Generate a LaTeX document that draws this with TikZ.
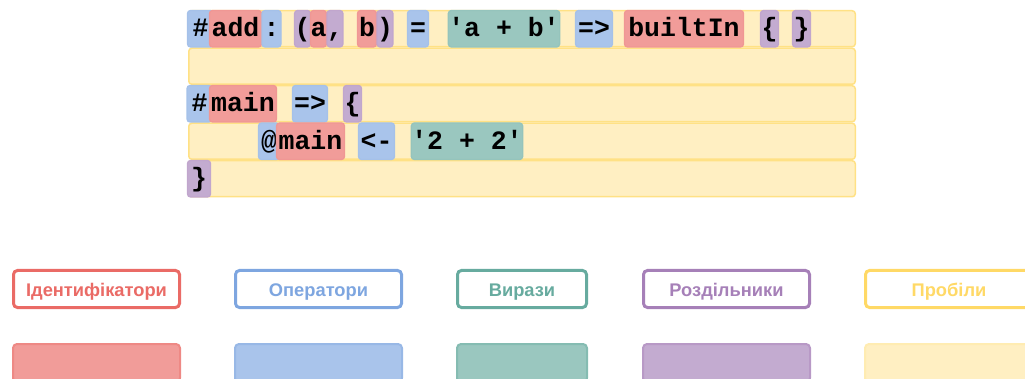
\documentclass[tikz,border=0pt]{standalone}
\usepackage{fontspec}
\setmainfont{Liberation Sans}
\setmonofont{Liberation Mono}
\definecolor{idfill}{HTML}{F19C99}
\definecolor{idline}{HTML}{EA6B66}
\definecolor{opfill}{HTML}{A9C4EB}
\definecolor{opline}{HTML}{7EA6E0}
\definecolor{exfill}{HTML}{9AC7BF}
\definecolor{exline}{HTML}{67AB9F}
\definecolor{sepfill}{HTML}{C3ABD0}
\definecolor{sepline}{HTML}{A680B8}
\definecolor{spfill}{HTML}{FFEFC2}
\definecolor{spline}{HTML}{FFD966}

\begin{document}
\begin{tikzpicture}[x=1pt, y=-1pt,
  tok/.style={shape=rectangle, rounded corners=3pt, minimum height=36.5pt, inner sep=0pt, line width=1.3pt,
    font=\fontsize{26.5}{30}\selectfont\ttfamily\bfseries, text height=21pt, text depth=5pt},
  idtok/.style={tok, fill=idfill, draw=idline!70},
  optok/.style={tok, fill=opfill, draw=opline!70},
  extok/.style={tok, fill=exfill, draw=exline!70},
  septok/.style={tok, fill=sepfill, draw=sepline!70},
  row/.style={shape=rectangle, rounded corners=3pt, minimum height=36pt, minimum width=666.5pt, inner sep=0pt,
    line width=1.5pt, fill=spfill, draw=spline!80},
  key/.style={shape=rectangle, rounded corners=4pt, minimum height=37pt, inner sep=0pt, line width=3pt, fill=white,
    font=\fontsize{18.3}{21}\selectfont\bfseries, text height=14.5pt, text depth=0pt},
  swatch/.style={shape=rectangle, rounded corners=4pt, minimum height=38pt, inner sep=0pt, line width=2pt}]
\useasboundingbox (0,0) rectangle (1025,379);
\clip (0,0) rectangle (1025,379);
%whitespace rows
\node[row] (rowA) at (522,28.75) {};
\node[row] (rowB) at (522,66.25) {};
\node[row] (rowC) at (522,103.75) {};
\node[row] (rowD) at (522,141.25) {};
\node[row] (rowE) at (522,178.75) {};
%#add: (a, b) = 'a + b' => builtIn { }
\node[optok, minimum width=26pt] (hashA) at (200.5,28.75) {\#};
\node[idtok, minimum width=52pt] (add) at (235.5,28.75) {add};
\node[optok, minimum width=19pt] (colon) at (271.5,28.75) {:};
\node[septok, minimum width=14pt] (lpar) at (302.5,28.75) {(};
\node[idtok, minimum width=16pt] (argA) at (318.5,28.75) {a};
\node[septok, minimum width=15pt] (comma) at (335,28.75) {,};
\node[idtok, minimum width=19pt] (argB) at (367,28.75) {b};
\node[septok, minimum width=15pt] (rpar) at (385,28.75) {)};
\node[optok, minimum width=21pt] (eq) at (418,28.75) {=};
\node[extok, minimum width=111pt] (body) at (504,28.75) {'a + b'};
\node[optok, minimum width=37pt] (arrA) at (594,28.75) {=>};
\node[idtok, minimum width=119pt] (builtin) at (684,28.75) {builtIn};
\node[septok, minimum width=18pt] (lbrA) at (769.5,28.75) {\{};
\node[septok, minimum width=18pt] (rbrA) at (801.5,28.75) {\}};
%#main => {
\node[optok, minimum width=25pt] (hashB) at (199.5,103.75) {\#};
\node[idtok, minimum width=67pt] (mainA) at (243,103.75) {main};
\node[optok, minimum width=35pt] (arrB) at (310,103.75) {=>};
\node[septok, minimum width=18pt] (lbrB) at (352.5,103.75) {\{};
%@main <- '2 + 2'
\node[optok, minimum width=21pt] (atsign) at (269,141.25) {@};
\node[idtok, minimum width=68pt] (mainB) at (310.5,141.25) {main};
\node[optok, minimum width=36pt] (assign) at (376.5,141.25) {<-};
\node[extok, minimum width=111pt] (sum) at (467,141.25) {'2 + 2'};
%}
\node[septok, minimum width=23pt] (rbrB) at (199,178.75) {\}};
%%legend
\node[key, draw=idline, text=idline, minimum width=166pt] (idkey) at (96.5,289) {Ідентифікатори};
\node[key, draw=opline, text=opline, minimum width=166pt] (opkey) at (318.5,289) {Оператори};
\node[key, draw=exline, text=exline, minimum width=129pt] (exkey) at (522,289) {Вирази};
\node[key, draw=sepline, text=sepline, minimum width=166pt] (sepkey) at (726.5,289) {Роздільники};
\node[key, draw=spline, text=spline, minimum width=167pt] (spkey) at (949,289) {Пробіли};
\node[swatch, fill=idfill, draw=idline!80, minimum width=167pt] (idsw) at (96.5,363) {};
\node[swatch, fill=opfill, draw=opline!80, minimum width=167pt] (opsw) at (318.5,363) {};
\node[swatch, fill=exfill, draw=exline!80, minimum width=130pt] (exsw) at (522,363) {};
\node[swatch, fill=sepfill, draw=sepline!80, minimum width=167pt] (sepsw) at (726.5,363) {};
\node[swatch, fill=spfill, draw=spline!50, minimum width=168pt] (spsw) at (949,363) {};
\end{tikzpicture}
\end{document}
